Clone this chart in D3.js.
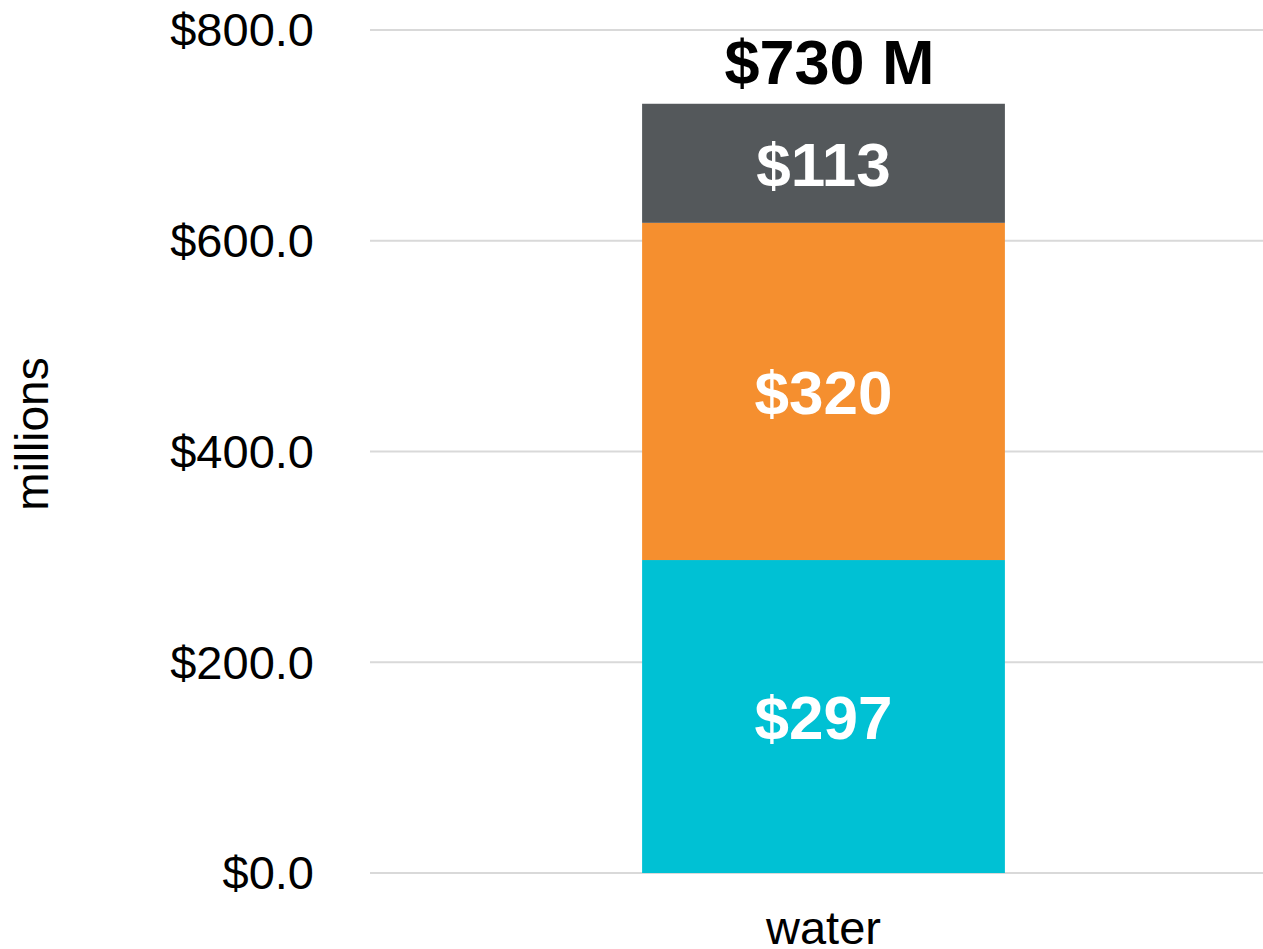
<!DOCTYPE html>
<html>
<head>
<meta charset="utf-8">
<script src="https://cdn.jsdelivr.net/npm/d3@7"></script>
<style>
  html, body { margin: 0; padding: 0; background: #fff; overflow: hidden; }
  svg { display: block; font-family: "Liberation Sans", Arial, sans-serif; }
</style>
</head>
<body>
<div id="chart"></div>
<script>
// chart data
var categories = ["water"];
var seriesNames = ["base", "middle", "top"];
var seriesValues = [[297], [320], [113]];
var seriesColors = ["#00c1d4", "#f58f2f", "#54585b"];
var yTicks = [0, 200, 400, 600, 800];
var yLabel = "millions";

var width = 1263, height = 949;

var svg = d3.select("#chart").append("svg")
  .attr("width", width)
  .attr("height", height);

var x = d3.scaleBand()
  .domain(categories)
  .range([370, 1277])
  .paddingInner(0.6)
  .paddingOuter(0.3);

var y = d3.scaleLinear()
  .domain([0, 800])
  .range([873, 30]);

// gridlines
svg.append("g")
  .selectAll("line")
  .data(yTicks)
  .enter()
  .append("line")
  .attr("x1", 370)
  .attr("x2", 1277)
  .attr("y1", function (d) { return y(d); })
  .attr("y2", function (d) { return y(d); })
  .attr("stroke", "#d9d9d9")
  .attr("stroke-width", 2);

// y tick labels
svg.append("g")
  .selectAll("text")
  .data(yTicks)
  .enter()
  .append("text")
  .attr("x", 314)
  .attr("y", function (d) { return y(d); })
  .attr("dy", "0.35em")
  .attr("text-anchor", "end")
  .style("font-size", "47px")
  .attr("fill", "#000")
  .text(function (d) { return "$" + d3.format(".1f")(d); });

// y axis title
svg.append("text")
  .attr("transform", "translate(48,434) rotate(-90)")
  .attr("text-anchor", "middle")
  .style("font-size", "46px")
  .attr("fill", "#000")
  .text(yLabel);

// stacked data
var rows = categories.map(function (c, i) {
  var r = { category: c };
  seriesNames.forEach(function (s, j) { r[s] = seriesValues[j][i]; });
  return r;
});
var stacked = d3.stack().keys(seriesNames)(rows);

var layers = svg.append("g")
  .selectAll("g")
  .data(stacked)
  .enter()
  .append("g")
  .attr("fill", function (d, i) { return seriesColors[i]; });

layers.selectAll("rect")
  .data(function (d) { return d; })
  .enter()
  .append("rect")
  .attr("x", function (d) { return x(d.data.category); })
  .attr("width", x.bandwidth())
  .attr("y", function (d) { return y(d[1]); })
  .attr("height", function (d) { return y(d[0]) - y(d[1]); });

layers.selectAll("text")
  .data(function (d) { return d; })
  .enter()
  .append("text")
  .attr("x", function (d) { return x(d.data.category) + x.bandwidth() / 2; })
  .attr("y", function (d) { return (y(d[0]) + y(d[1])) / 2; })
  .attr("dy", "0.36em")
  .attr("text-anchor", "middle")
  .attr("fill", "#fff")
  .style("font-size", "62px")
  .style("font-weight", "bold")
  .text(function (d) { return "$" + (d[1] - d[0]); });

// totals
svg.append("g")
  .selectAll("text")
  .data(rows)
  .enter()
  .append("text")
  .attr("x", function (d) { return x(d.category) + x.bandwidth() / 2 + 6; })
  .attr("y", function (d) {
    var total = d3.sum(seriesNames, function (s) { return d[s]; });
    return y(total) - 20;
  })
  .attr("text-anchor", "middle")
  .attr("fill", "#000")
  .style("font-size", "63px")
  .style("font-weight", "bold")
  .text(function (d) {
    return "$" + d3.sum(seriesNames, function (s) { return d[s]; }) + " M";
  });

// category labels
svg.append("g")
  .selectAll("text")
  .data(categories)
  .enter()
  .append("text")
  .attr("x", function (d) { return x(d) + x.bandwidth() / 2; })
  .attr("y", 944)
  .attr("text-anchor", "middle")
  .style("font-size", "47px")
  .attr("fill", "#000")
  .text(function (d) { return d; });
</script>
</body>
</html>
